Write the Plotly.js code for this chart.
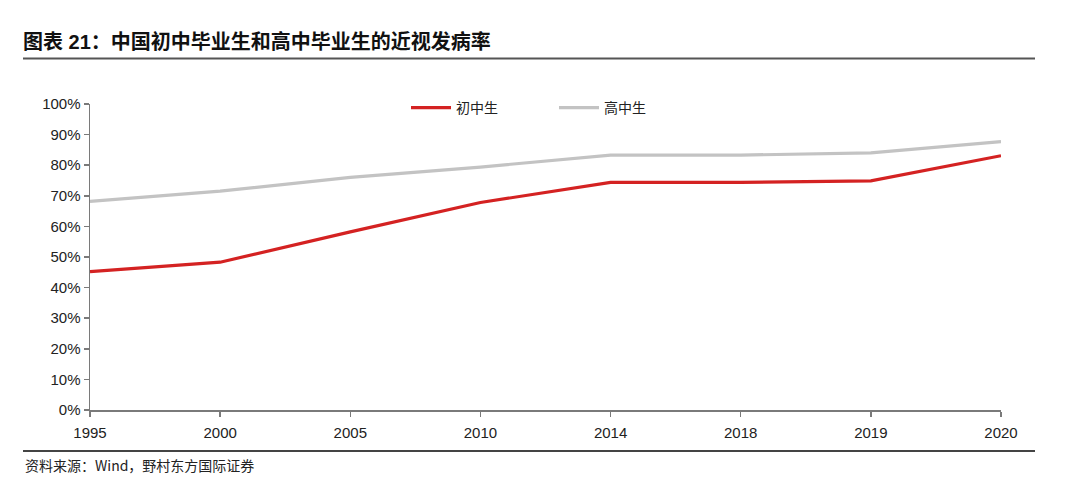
<!DOCTYPE html>
<html>
<head>
<meta charset="utf-8">
<script src="https://cdn.plot.ly/plotly-3.0.1.min.js"></script>
<style>html,body{margin:0;padding:0;background:#fff}#chart{width:1080px;height:482px}</style>
</head>
<body>
<div id="chart"></div>
<script>
const years = ['1995','2000','2005','2010','2014','2018','2019','2020'];
const juniorName = '初中生';
const seniorName = '高中生';
const junior = [45.2, 48.3, 58.2, 67.8, 74.4, 74.4, 74.9, 83.1];
const senior = [68.2, 71.5, 76.0, 79.4, 83.3, 83.3, 84.0, 87.7];
const yTicks = [0,10,20,30,40,50,60,70,80,90,100];
const yTickText = yTicks.map(v => v + '%');
const titleText = '<b>图表 21：中国初中毕业生和高中毕业生的近视发病率</b>';
const sourceText = '资料来源：Wind，野村东方国际证券';

const W = 1080, H = 482;
const L = 90, R = 1001, T = 104, B = 410;
const px = x => (x - L) / (R - L);
const py = y => (B - y) / (B - T);

const traces = [
  {x: years, y: junior, name: juniorName, type: 'scatter', mode: 'lines',
   line: {color: '#d42222', width: 3.2}},
  {x: years, y: senior, name: seniorName, type: 'scatter', mode: 'lines',
   line: {color: '#c3c3c3', width: 3.2}}
];

const layout = {
  width: W, height: H,
  margin: {l: L, r: W - R, t: T, b: H - B, pad: 0},
  paper_bgcolor: '#fff', plot_bgcolor: '#fff',
  font: {family: 'Arial, "Liberation Sans", "Noto Sans CJK SC", sans-serif', color: '#222', size: 14},
  title: {text: titleText, x: 23 / W, xref: 'container', xanchor: 'left',
          y: 1 - 42 / H, yref: 'container', yanchor: 'middle',
          font: {family: 'Arial, "Noto Sans CJK SC", sans-serif', size: 20, color: '#111'}},
  xaxis: {type: 'category', range: [0, 7], showgrid: false, zeroline: false,
          showline: true, linecolor: '#7a7a7a', linewidth: 1.5,
          ticks: 'outside', ticklen: 5, tickcolor: '#7a7a7a', tickwidth: 1.5,
          ticklabelstandoff: 3,
          tickfont: {size: 15, color: '#222'}, fixedrange: true},
  yaxis: {range: [0, 100], tickvals: yTicks, ticktext: yTickText, showgrid: false, zeroline: false,
          showline: true, linecolor: '#7a7a7a', linewidth: 1.5,
          ticks: 'outside', ticklen: 5, tickcolor: '#7a7a7a', tickwidth: 1.5,
          tickfont: {size: 15, color: '#222'}, fixedrange: true},
  showlegend: true,
  legend: {orientation: 'h', x: px(406), y: py(108), xanchor: 'left', yanchor: 'middle',
           font: {family: '"Noto Sans CJK SC", sans-serif', size: 14, color: '#222'},
           entrywidth: 93, bgcolor: 'rgba(0,0,0,0)', itemwidth: 40},
  shapes: [
    {type: 'line', xref: 'paper', yref: 'paper', x0: px(23), x1: px(1035), y0: py(58.5), y1: py(58.5),
     line: {color: '#555', width: 2}},
    {type: 'line', xref: 'paper', yref: 'paper', x0: px(23), x1: px(1035), y0: py(451), y1: py(451),
     line: {color: '#444', width: 2}}
  ],
  annotations: [
    {text: sourceText, xref: 'paper', yref: 'paper', x: px(23), y: py(465), xanchor: 'left', yanchor: 'middle',
     showarrow: false, font: {family: '"Noto Sans CJK SC", sans-serif', size: 14, color: '#222'}}
  ]
};

Plotly.newPlot('chart', traces, layout, {displayModeBar: false, staticPlot: true});
</script>
</body>
</html>
